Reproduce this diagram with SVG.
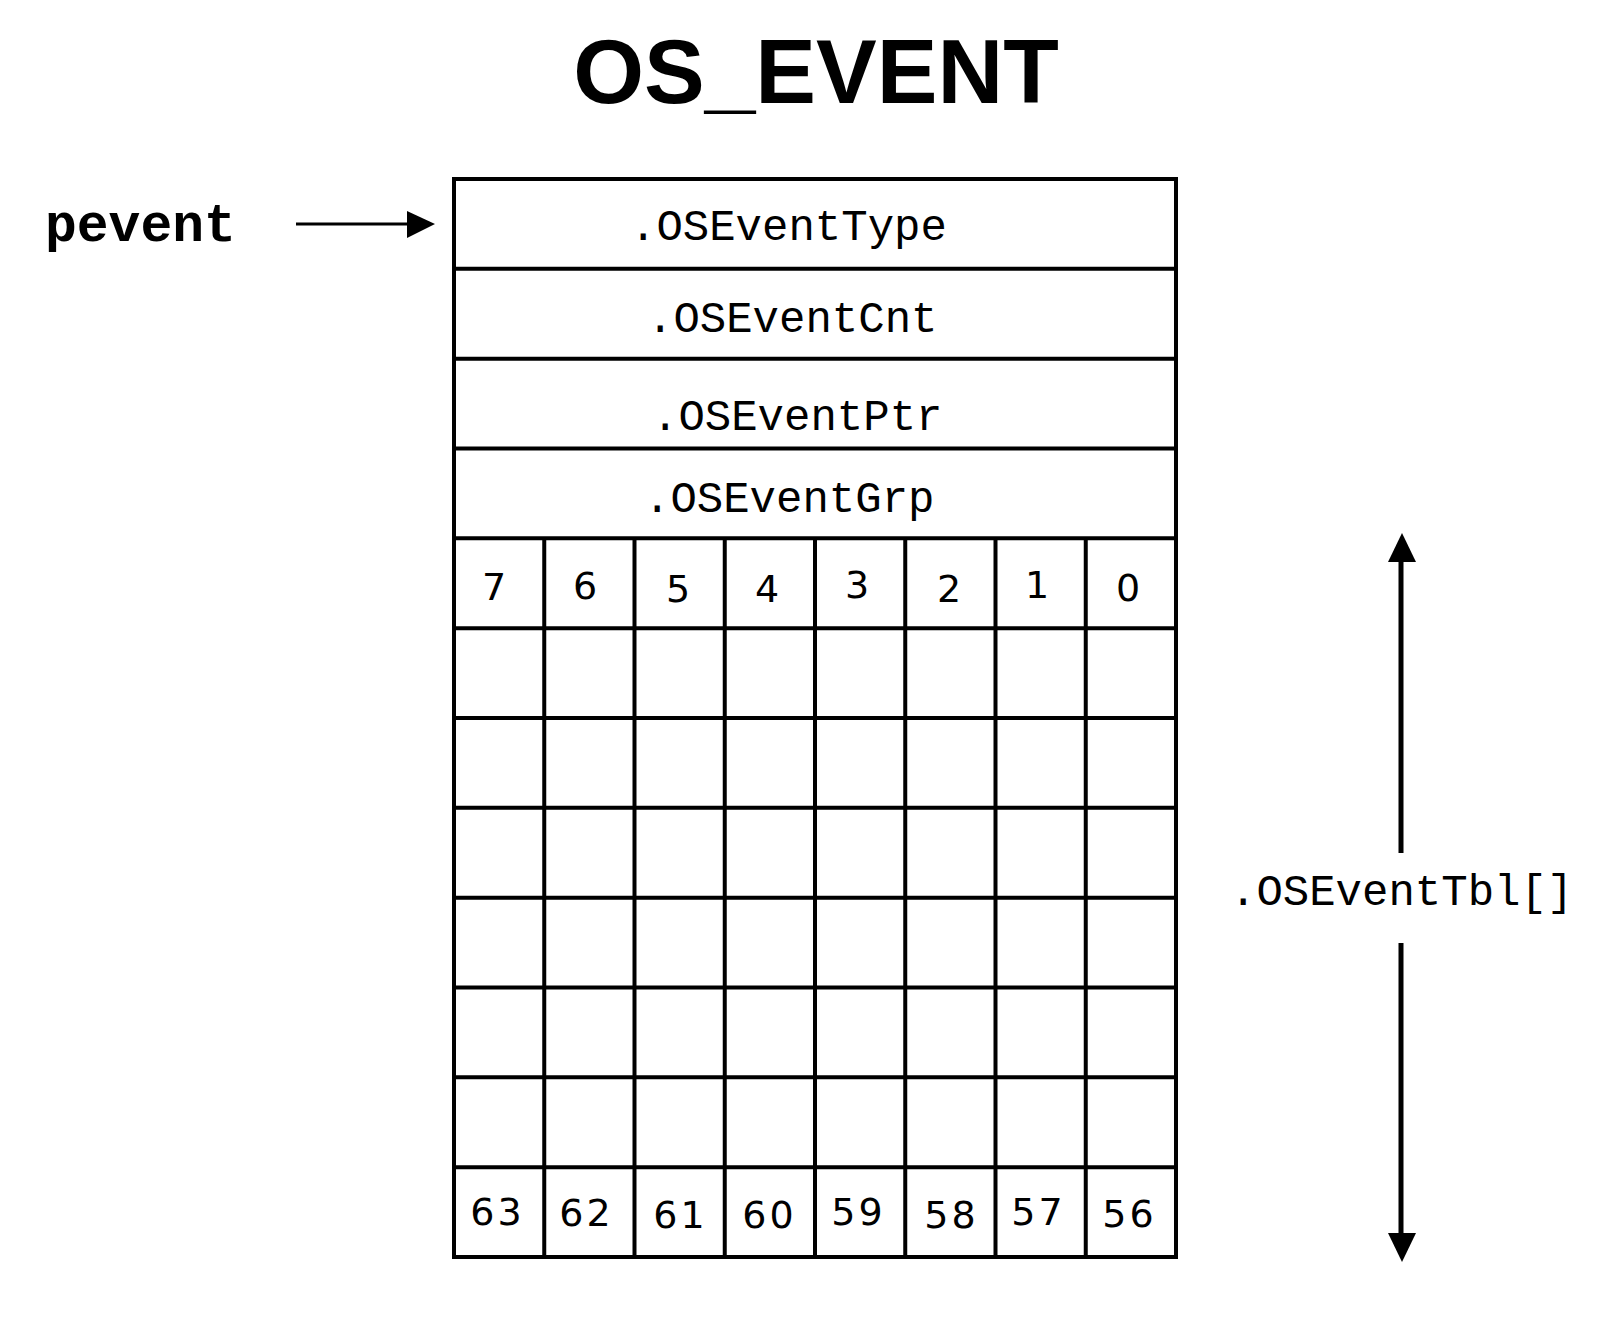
<svg xmlns="http://www.w3.org/2000/svg" width="1606" height="1318" viewBox="0 0 1606 1318">
<style>
.title{font-family:"Liberation Sans",Arial,sans-serif;font-weight:bold;font-size:91px;fill:#000}
.mono{font-family:"Liberation Mono","Courier New",monospace;font-size:44px;fill:#000}
.ptr{font-family:"Liberation Mono","Courier New",monospace;font-weight:bold;font-size:53px;fill:#000}
.num{font-family:"DejaVu Sans",sans-serif;font-size:38px;fill:#000;text-anchor:middle}
.num2{font-family:"DejaVu Sans",sans-serif;font-size:38px;fill:#000;text-anchor:middle;letter-spacing:3px}
.grid{stroke:#000;stroke-width:4;fill:none}
.conn{stroke:#000;fill:none}
</style>
<rect width="1606" height="1318" fill="#fff"/>
<text id="title" class="title" x="816" y="103" text-anchor="middle">OS_EVENT</text>
<g id="pevent"><text class="ptr" x="45" y="241">pevent</text></g>
<g id="os_event_struct">
<rect class="grid" x="454" y="179" width="722" height="1078"/>
<path class="grid" d="M454 268.8H1176M454 358.7H1176M454 448.5H1176M454 538.3H1176M454 628.2H1176M454 718H1176M454 807.8H1176M454 897.7H1176M454 987.5H1176M454 1077.3H1176M454 1167.2H1176"/>
<path class="grid" d="M544.25 538.3V1257M634.5 538.3V1257M724.75 538.3V1257M815 538.3V1257M905.25 538.3V1257M995.5 538.3V1257M1085.75 538.3V1257"/>
</g>
<g id="field_type"><text class="mono" x="630" y="240">.OSEventType</text></g>
<g id="field_cnt"><text class="mono" x="647" y="332">.OSEventCnt</text></g>
<g id="field_ptr"><text class="mono" x="652" y="430">.OSEventPtr</text></g>
<g id="field_grp"><text class="mono" x="644" y="512">.OSEventGrp</text></g>
<g id="bits_top">
<text class="num" x="494" y="600">7</text>
<text class="num" x="585" y="599">6</text>
<text class="num" x="678" y="602">5</text>
<text class="num" x="767" y="602">4</text>
<text class="num" x="857" y="598">3</text>
<text class="num" x="949" y="602">2</text>
<text class="num" x="1037" y="598">1</text>
<text class="num" x="1128" y="601">0</text>
</g>
<g id="bits_bottom">
<text class="num2" x="497.5" y="1225">63</text>
<text class="num2" x="586.5" y="1226">62</text>
<text class="num2" x="680.5" y="1228">61</text>
<text class="num2" x="769.5" y="1228">60</text>
<text class="num2" x="858.5" y="1225">59</text>
<text class="num2" x="951.5" y="1228">58</text>
<text class="num2" x="1038.5" y="1225">57</text>
<text class="num2" x="1129.5" y="1227">56</text>
</g>
<g id="tbl_label"><text class="mono" x="1230" y="905">.OSEventTbl[]</text></g>
<g id="connectors">
<path class="conn" stroke-width="3" d="M296 224H410"/>
<polygon points="435,224 407,211 407,238" fill="#000"/>
<path class="conn" stroke-width="5" d="M1401 558V853M1401 943V1237"/>
<polygon points="1402,533 1388,562 1416,562" fill="#000"/>
<polygon points="1402,1262 1388,1233 1416,1233" fill="#000"/>
</g>
</svg>
